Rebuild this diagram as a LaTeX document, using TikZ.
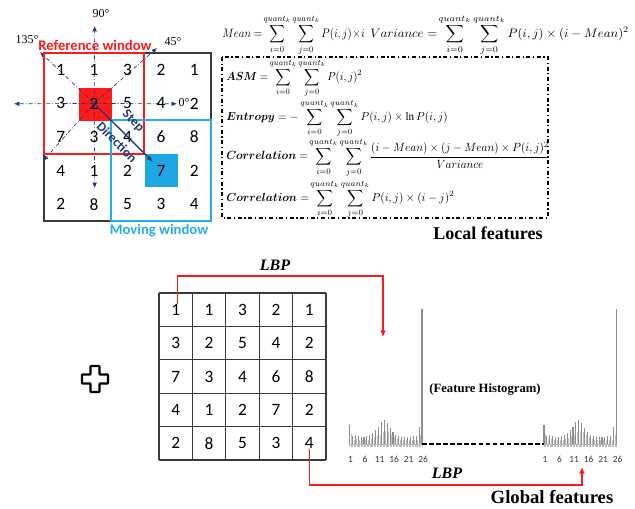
\documentclass[tikz,border=0pt]{standalone}
\usepackage{fontspec}
\usepackage{amsmath,bm,graphicx}
\setmainfont{Liberation Serif}
\newfontfamily\calib{Carlito}
\usetikzlibrary{arrows.meta,calc}
\definecolor{refred}{HTML}{FF1A1A}
\definecolor{movblue}{HTML}{22AEEA}
\definecolor{cellblue}{HTML}{1DA6E4}
\definecolor{dirblue}{HTML}{1F3A78}
\definecolor{histgray}{HTML}{8E8E8E}
\definecolor{gridline}{HTML}{3A3A3A}
\newcommand{\qsum}[1]{\sum_{#1=0}^{quant_k}}
\tikzset{
  num/.style={inner sep=0pt,font=\calib\fontsize{13}{15}\selectfont},
  degl/.style={inner sep=0pt,font=\fontsize{9}{10}\selectfont},
  dirline/.style={dirblue,line width=0.5pt,dash pattern=on 3pt off 1.5pt on 0.6pt off 1.5pt,-{Latex[length=4pt,width=3.5pt]}},
  steparrow/.style={dirblue,line width=1pt,-{Latex[length=5pt,width=4pt]}},
  steptext/.style={dirblue,inner sep=0pt,rotate=-45,font=\calib\bfseries\fontsize{10}{12}\selectfont},
  winlabel/.style={inner sep=0pt,font=\calib\bfseries\fontsize{11}{13}\selectfont},
  eq/.style={inner sep=0pt,anchor=west,font=\fontsize{10}{12}\selectfont},
  title/.style={inner sep=0pt,font=\bfseries\fontsize{13.5}{15}\selectfont},
  lbp/.style={inner sep=0pt,font=\bfseries\itshape\fontsize{12}{14}\selectfont},
  redarrow/.style={refred,line width=1.1pt,-{Latex[length=5pt,width=4.5pt]}},
  tick/.style={inner sep=0pt,font=\calib\fontsize{7}{8}\selectfont,text=black!80},
  bar/.style={histgray,line width=0.8pt},
}
\begin{document}
\begin{tikzpicture}[x=0.75pt,y=-0.75pt]
\useasboundingbox (0,0) rectangle (635,508);

% ---------- top-left window grid ----------
\fill[refred] (79,88) rectangle (111.5,121);
\fill[cellblue] (145,154) rectangle (178,187);
\draw[gridline,line width=1.1pt] (44,53) rectangle (211,221);

\foreach \row [count=\r] in {{1,1,3,2,1},{3,2,5,4,2},{7,3,4,6,8},{4,1,2,7,2},{2,8,5,3,4}}{
  \foreach \v [count=\c] in \row {
    \coordinate (tc\r\c) at ({44+33.4*(\c-0.5)},{53+33.6*(\r-0.5)});
  }
}

% direction lines
\coordinate (d0) at (177,103.8);
\coordinate (d180) at (14,103.8);
\coordinate (d90) at (94.7,26);
\coordinate (d270) at (94.7,188);
\coordinate (d45) at (157,48);
\coordinate (d135) at (40,52);
\coordinate (d225) at (43,161);
\coordinate (stepend) at (153,162);
\draw[dirline] (tc22) -- (d0);
\draw[dirline] (tc22) -- (d180);
\draw[dirline] (tc22) -- (d90);
\draw[dirline] (tc22) -- (d270);
\draw[dirline] (tc22) -- (d45);
\draw[dirline] (tc22) -- (d135);
\draw[dirline] (tc22) -- (d225);

\node[degl] (l90) at (101,14) {90°};
\node[degl] (l135) at (27,40) {135°};
\node[degl] (l45) at (173,42) {45°};
\node[degl] (l0) at (184,103) {0°};

\draw[refred,line width=1.6pt] (44,53) rectangle (144,154);
\draw[movblue,line width=1.6pt] (111,120) rectangle (211,221);

\foreach \row [count=\r] in {{1,1,3,2,1},{3,2,5,4,2},{7,3,4,6,8},{4,1,2,7,2},{2,8,5,3,4}}{
  \foreach \v [count=\c] in \row {
    \node[num] (t\r\c) at (tc\r\c) {\v};
  }
}

\draw[steparrow] (tc22) -- (stepend);
\node[steptext] (steplab) at (133,121) {Step};
\node[steptext] (dirlab) at (117,142) {Direction};

\node[winlabel,text=refred] (reflab) at (95,45) {Reference window};
\node[winlabel,text=movblue] (movlab) at (159,231) {Moving window};

% ---------- equations ----------
\node[eq] (mean) at (222,35) {\resizebox*{107pt}{30pt}{$\displaystyle Mean =\! \qsum{i}\qsum{j} P(i,j)\!\times\! i$}};
\node[eq] (var) at (370,35) {\resizebox*{194pt}{30pt}{$\displaystyle Variance =\! \qsum{i}\qsum{j} P(i,j)\times (i-Mean)^2$}};
\draw[line width=0.9pt,dash pattern=on 3pt off 2pt on 0.8pt off 2pt] (222,57) rectangle (548,218);
\node[eq] (asm) at (226,78) {\resizebox*{102pt}{28.5pt}{$\displaystyle \bm{ASM} =\! \qsum{i}\qsum{j} P(i,j)^2$}};
\node[eq] (ent) at (226,118.5) {\resizebox*{166pt}{28pt}{$\displaystyle \bm{Entropy} = -\qsum{i}\qsum{j} P(i,j)\times \ln P(i,j)$}};
\node[eq] (cor) at (226,157.5) {\resizebox*{243pt}{29pt}{$\displaystyle \bm{Correlation} =\! \qsum{i}\qsum{j} \frac{(i-Mean)\times(j-Mean)\times P(i,j)^2}{Variance}$}};
\node[eq] (cor2) at (226,199) {\resizebox*{171pt}{28.5pt}{$\displaystyle \bm{Correlation} =\! \qsum{i}\qsum{j} P(i,j)\times(i-j)^2$}};
\node[title] (local) at (488,233) {Local features};

% ---------- plus ----------
\draw[black,line width=1.6pt,fill=white,rounded corners=0.5pt]
  (90.5,366) -- (99.5,366) -- (99.5,374.5) -- (108,374.5) -- (108,383.5) -- (99.5,383.5)
  -- (99.5,392) -- (90.5,392) -- (90.5,383.5) -- (82,383.5) -- (82,374.5) -- (90.5,374.5) -- cycle;

% ---------- bottom grid ----------
\foreach \i in {0,...,5}{
  \draw[gridline,line width=1pt] ({159+33.4*\i},293) -- ({159+33.4*\i},460);
  \draw[gridline,line width=1pt] (159,{293+33.4*\i}) -- (326,{293+33.4*\i});
}
\foreach \row [count=\r] in {{1,1,3,2,1},{3,2,5,4,2},{7,3,4,6,8},{4,1,2,7,2},{2,8,5,3,4}}{
  \foreach \v [count=\c] in \row {
    \node[num] (b\r\c) at ({159+33.4*(\c-0.5)},{293+33.4*(\r-0.5)}) {\v};
  }
}

% ---------- histograms ----------
\foreach \xo/\nm in {349.5/hl,544/hr}{
  \draw[histgray!70,line width=0.4pt] (\xo,444) -- (\xo+72.5,444);
  \foreach \k in {0,...,50}{
    \draw[histgray!60,line width=0.35pt] ({\xo+1.45*\k},444) -- ({\xo+1.45*\k},447);
  }
  \foreach \h [count=\k] in {19,8,9,8,7,7,8,9,11,14,17,22,24,21,16,12,9,8,7,7,7,7,8,8,17}{
    \draw[bar] ({\xo+2.9*(\k-1)},444) -- ++(0,-\h);
    \draw[histgray!55,line width=0.4pt] ({\xo+2.9*(\k-1)+1.45},444) -- ++(0,{-0.55*\h});
  }
  \draw[histgray,line width=1pt] (\xo+72.5,444) -- (\xo+72.5,309);
  \foreach \t/\lab in {0/1,5/6,10/11,15/16,20/21,25/26}{
    \node[tick] at ({\xo+2.9*\t+1},459) {\lab};
  }
}
\coordinate (hlend) at (422,444);
\coordinate (hrstart) at (544,444);
\draw[black,line width=1.3pt,dash pattern=on 3.5pt off 1.8pt] (hlend) -- (hrstart);
\node[inner sep=0pt,font=\bfseries\fontsize{9.5}{11}\selectfont] (fh) at (485,389) {(Feature Histogram)};

% ---------- LBP connectors ----------
\coordinate (lbpin) at (383,337);
\coordinate (lbpout) at (582,467);
\draw[redarrow] ($(b11.north)+(2,0)$) -- ++(0,-28) -| (lbpin);
\draw[redarrow] (b55.south) -- ++(0,36) -| (lbpout);
\node[lbp] (lbptop) at (275,265) {LBP};
\node[lbp] (lbpbot) at (447,473) {LBP};
\node[title,font=\bfseries\fontsize{14}{16}\selectfont] (global) at (552,497) {Global features};
\end{tikzpicture}
\end{document}
